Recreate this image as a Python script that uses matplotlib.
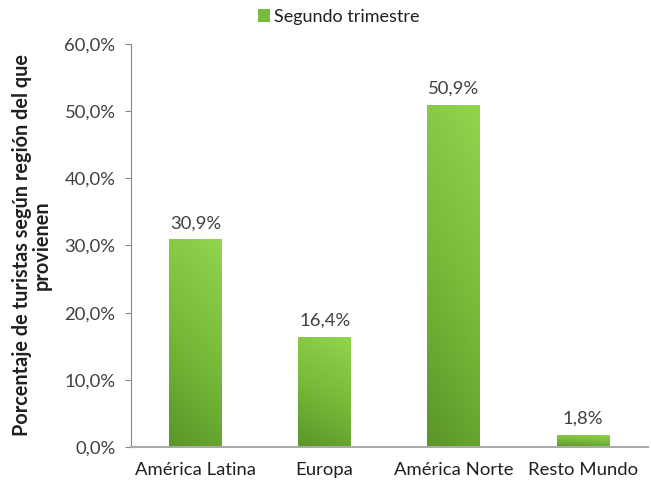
import matplotlib
matplotlib.use("Agg")
import matplotlib.pyplot as plt
import numpy as np
from matplotlib.patches import Patch
from matplotlib.colors import LinearSegmentedColormap

categories = ["América Latina", "Europa", "América Norte", "Resto Mundo"]
values = [30.9, 16.4, 50.9, 1.8]
value_labels = ["30,9%", "16,4%", "50,9%", "1,8%"]
yticks = [0, 10, 20, 30, 40, 50, 60]
ytick_labels = ["0,0%", "10,0%", "20,0%", "30,0%", "40,0%", "50,0%", "60,0%"]
series_name = "Segundo trimestre"

plt.rcParams['font.family'] = ['Lato', 'DejaVu Sans']

fig = plt.figure(figsize=(6.51, 4.88), dpi=100)
ax = fig.add_axes([0.201, 0.084, 0.794, 0.826])

x = np.arange(len(categories))
width = 0.41
bars = ax.bar(x, values, width=width, color="none", edgecolor="none")

cmap = LinearSegmentedColormap.from_list("g", ["#5a9628", "#78bb3a", "#92d44e"])
grad = np.linspace(0, 1, 100)
G = (grad[:, None] * 0.8 + np.linspace(0, 0.2, 20)[None, :])
for b in bars:
    bx, by = b.get_x(), b.get_y()
    bw, bh = b.get_width(), b.get_height()
    im = ax.imshow(G, cmap=cmap, origin="lower", aspect="auto",
                   extent=[bx, bx + bw, by, by + bh], vmin=0, vmax=1, zorder=2)
    im.set_clip_path(b)

for xi, v, lab in zip(x, values, value_labels):
    ax.text(xi, v + 1.2, lab, ha="center", va="bottom", fontsize=13.3, color="#404040")

ax.set_xlim(-0.5, 3.5)
ax.set_ylim(0, 60)
ax.set_yticks(yticks)
ax.set_yticklabels(ytick_labels, fontsize=13.3, color="#404040")
ax.set_xticks(x)
ax.set_xticklabels(categories, fontsize=13.3, color="#202020")
ax.tick_params(axis="x", length=0, pad=11)
ax.tick_params(axis="y", length=4, color="#888888", pad=7)
for s in ["top", "right"]:
    ax.spines[s].set_visible(False)
ax.spines["left"].set_color("#888888")
ax.spines["bottom"].set_color("#aaaaaa")
ax.spines["bottom"].set_linewidth(1.5)

fig.text(0.049, 0.497, "Porcentaje de turistas según región del que\nprovienen",
         rotation=90, ha="center", va="center", fontsize=14.3, fontweight="bold",
         color="#202020", linespacing=1.02)

handle = Patch(facecolor="#78bb3a", edgecolor="none")
fig.legend([handle], [series_name], loc="center", bbox_to_anchor=(0.52, 0.965),
           frameon=False, fontsize=13, handlelength=0.7, handleheight=0.7,
           handletextpad=0.2, labelcolor="#202020")

fig.savefig("out.png", dpi=100)
